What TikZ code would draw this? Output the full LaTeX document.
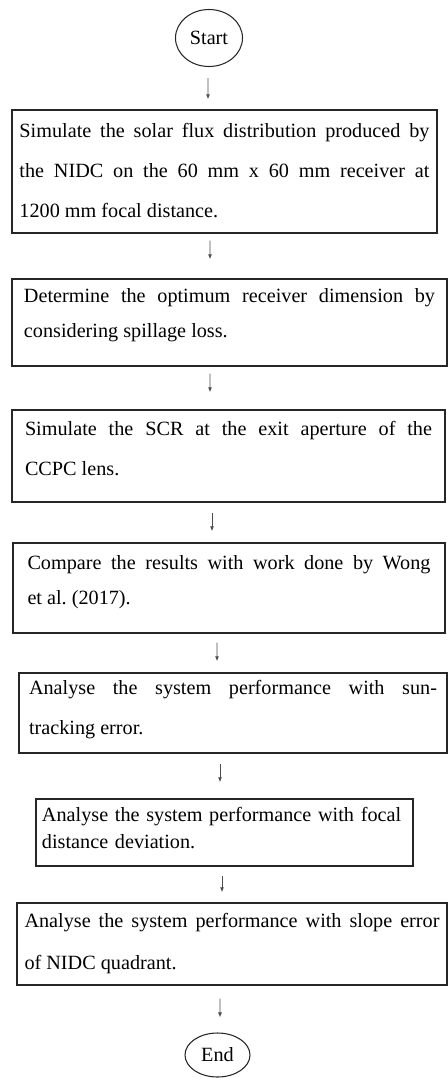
\documentclass[tikz,border=0pt]{standalone}
\usepackage{fontspec}
\setmainfont{Liberation Serif}
\usetikzlibrary{arrows.meta, positioning, shapes.geometric}
\tolerance=9999
\hyphenpenalty=10000
% extra depth below the last line of a box
\newcommand{\padbelow}[1]{\rule[-#1]{0pt}{#1}}

\begin{document}
\begin{tikzpicture}[
  term/.style={draw=black!85, ellipse, line width=0.6pt, inner sep=0pt,
    font=\fontsize{11.5}{14}\selectfont},
  procbox/.style={draw=black!85, line width=0.8pt, inner sep=0pt,
    align=justify},
  lead/.style={font=\fontsize{11.5}{#1}\selectfont},
  arr/.style={-{Latex[length=1mm, width=0.8mm]}, black!70, line width=0.5pt},
]
\useasboundingbox (0,0) rectangle (8.96,-21.56);
% terminals
\node[term, minimum width=1.34cm, minimum height=1.14cm] (start) at (4.18,-0.76) {Start};
\node[term, minimum width=1.30cm, minimum height=0.88cm] (end) at (4.35,-21.10) {End};
% steps
\node[procbox, lead=22.8, text width=8.2cm, minimum width=8.5cm, minimum height=2.46cm]
  (b1) at (4.49,-3.43)
  {Simulate the solar flux distribution produced by\linebreak
   the NIDC on the 60 mm x 60 mm receiver at\linebreak
   1200 mm focal distance.\padbelow{0.04cm}};
\node[procbox, lead=19.9, text width=8.22cm, minimum width=8.7cm, minimum height=1.74cm]
  (b2) at (4.59,-6.45)
  {Determine the optimum receiver dimension by\linebreak
   considering spillage loss.\padbelow{0.38cm}};
\node[procbox, lead=22.8, text width=8.14cm, minimum width=8.66cm, minimum height=1.84cm]
  (b3) at (4.57,-9.12)
  {Simulate the SCR at the exit aperture of the\linebreak
   CCPC lens.\padbelow{0.3cm}};
\node[procbox, lead=19.9, text width=8.06cm, minimum width=8.64cm, minimum height=1.80cm]
  (b4) at (4.58,-11.76)
  {Compare the results with work done by Wong\linebreak
   et al.\ (2017).\padbelow{0.32cm}};
\node[procbox, lead=22.8, text width=8.16cm, minimum width=8.56cm, minimum height=1.60cm]
  (b5) at (4.66,-14.26)
  {Analyse the system performance with sun-\linebreak
   tracking error.\padbelow{0.24cm}};
\node[procbox, lead=15.4, align=left, text width=7.3cm, minimum width=7.54cm, minimum height=1.34cm]
  (b6) at (4.49,-16.65)
  {Analyse the system performance with focal\\
   distance deviation.\padbelow{0.2cm}};
\node[procbox, lead=23.9, text width=8.3cm, minimum width=8.6cm, minimum height=1.64cm]
  (b7) at (4.64,-18.88)
  {Analyse the system performance with slope error\linebreak
   of NIDC quadrant.\padbelow{0.12cm}};
% connectors
\draw[arr, shorten <=0.22cm, shorten >=0.20cm] ([xshift=-0.02cm]start.south) -- ([xshift=-0.33cm]b1.north);
\draw[arr, shorten <=0.14cm, shorten >=0.38cm] ([xshift=-0.29cm]b1.south) -- ([xshift=-0.39cm]b2.north);
\draw[arr, shorten <=0.14cm, shorten >=0.34cm] ([xshift=-0.39cm]b2.south) -- ([xshift=-0.37cm]b3.north);
\draw[arr, shorten <=0.20cm, shorten >=0.22cm] ([xshift=-0.33cm]b3.south) -- ([xshift=-0.34cm]b4.north);
\draw[arr, shorten <=0.18cm, shorten >=0.22cm] ([xshift=-0.24cm]b4.south) -- ([xshift=-0.32cm]b5.north);
\draw[arr, shorten <=0.20cm, shorten >=0.32cm] ([xshift=-0.26cm]b5.south) -- ([xshift=-0.09cm]b6.north);
\draw[arr, shorten <=0.18cm, shorten >=0.20cm] ([xshift=-0.05cm]b6.south) -- ([xshift=-0.20cm]b7.north);
\draw[arr, shorten <=0.26cm, shorten >=0.30cm] ([xshift=-0.24cm]b7.south) -- ([xshift=0.05cm]end.north);
\end{tikzpicture}
\end{document}
